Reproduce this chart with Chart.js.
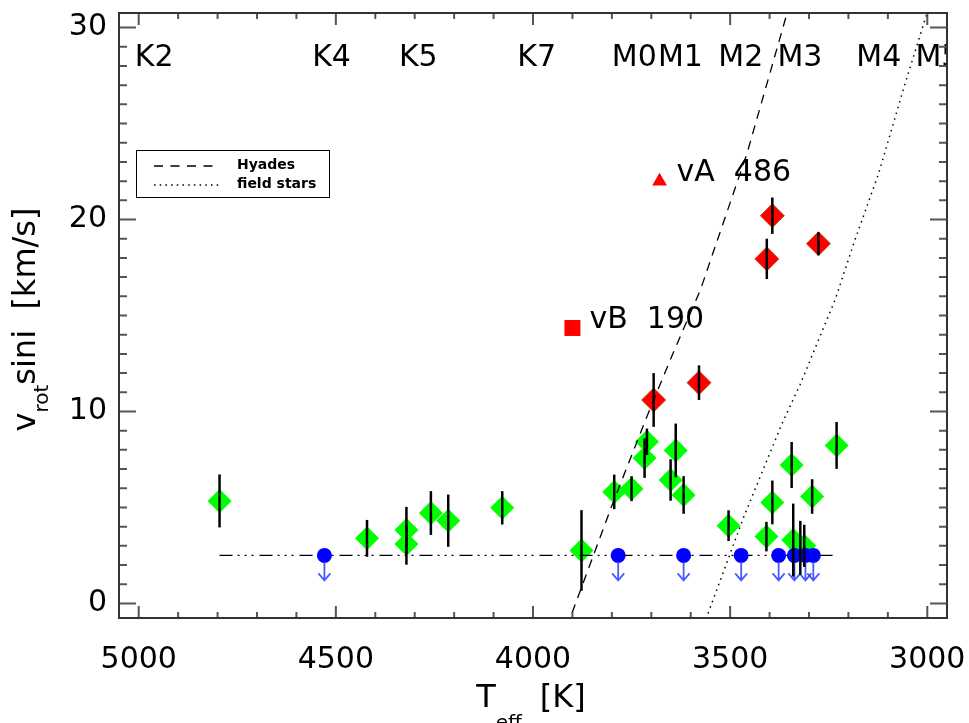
<!DOCTYPE html>
<html>
<head>
<meta charset="utf-8">
<script src="https://cdn.jsdelivr.net/npm/chart.js@4/dist/chart.umd.min.js"></script>
<style>
html, body { margin: 0; padding: 0; background: #fff; }
</style>
</head>
<body>
<canvas id="vsiniChart" width="969" height="723"></canvas>
<script>
// measured stars (green = slow rotators, red = fast rotators)
var greenTeff  = [4795, 4421, 4321, 4321, 4259, 4215, 4078, 3877, 3794, 3750, 3711, 3717, 3638, 3651, 3618, 3504, 3393, 3408, 3344, 3292, 3230, 3340, 3322, 3312];
var greenVsini = [5.34, 3.39, 3.83, 3.10, 4.71, 4.31, 4.98, 2.76, 5.81, 5.98, 8.42, 7.57, 7.97, 6.43, 5.65, 4.05, 5.26, 3.48, 7.21, 5.57, 8.23, 3.30, 2.90, 3.00];
var greenErr   = [1.38, 0.96, 1.20, 1.08, 1.14, 1.36, 0.87, 2.10, 0.90, 0.65, 0.69, 1.03, 1.40, 1.08, 0.98, 0.80, 1.14, 0.77, 1.20, 0.90, 1.22, 1.90, 1.40, 1.10];

var redTeff  = [3694, 3579, 3393, 3407, 3276];
var redVsini = [10.6, 11.5, 20.2, 17.95, 18.74];
var redErr   = [1.4, 0.9, 0.95, 1.05, 0.6];

// upper limits (vsini < 2.5 km/s)
var limitTeff  = [4529, 3784, 3618, 3472, 3377, 3337, 3309, 3289];
var limitVsini = 2.5;

// single objects
var vATeff = [3679], vAVsini = [22.0];
var vBTeff = [3900], vBVsini = [14.35];
var noteText  = ['vA  486', 'vB  190'];
var noteTeff  = [3636, 3857];
var noteVsini = [22.0, 14.35];

// comparison curves
var hyadesTeff  = [3901, 3800, 3711, 3652, 3575, 3457, 3355];
var hyadesVsini = [-0.5, 5.09, 9.74, 12.69, 16.36, 23.46, 30.8];
var fieldTeff   = [3556, 3466, 3368, 3323, 3233, 3186, 3123, 3059, 3000];
var fieldVsini  = [-0.52, 4.48, 9.39, 11.38, 15.86, 18.79, 22.42, 26.9, 30.8];

// spectral types along the top
var spTypes = ['K2', 'K4', 'K5', 'K7', 'M0', 'M1', 'M2', 'M3', 'M4', 'M5'];
var spTeff  = [5010, 4560, 4340, 4040, 3800, 3683, 3530, 3380, 3180, 3030];
var spVsini = 28;

var xTicks = [5000, 4500, 4000, 3500, 3000];
var yTicks = [0, 10, 20, 30];

function pts(xs, ys) {
    return xs.map(function(x, i) {
        return { x: x, y: Array.isArray(ys) ? ys[i] : ys };
    });
}

function noPad(s) {
    s.paddingLeft = 0;
    s.paddingRight = 0;
    s.paddingTop = 0;
    s.paddingBottom = 0;
}

var FONT = 'DejaVu Sans';

var overlay = {
    id: 'overlay',
    afterDatasetsDraw: function(chart) {
        var ctx = chart.ctx, xs = chart.scales.x, ys = chart.scales.y, area = chart.chartArea;
        ctx.save();
        ctx.beginPath();
        ctx.rect(area.left, area.top, area.right - area.left, area.bottom - area.top);
        ctx.clip();

        // arrows below the upper limits
        ctx.strokeStyle = 'rgba(40,60,255,0.85)';
        ctx.lineWidth = 1.8;
        limitTeff.forEach(function(t) {
            var px = xs.getPixelForValue(t), py = ys.getPixelForValue(limitVsini);
            ctx.beginPath();
            ctx.moveTo(px, py + 6);
            ctx.lineTo(px, py + 25);
            ctx.moveTo(px - 6, py + 18);
            ctx.lineTo(px, py + 25);
            ctx.lineTo(px + 6, py + 18);
            ctx.stroke();
        });

        // error bars
        ctx.strokeStyle = '#000';
        ctx.lineWidth = 2.5;
        function bars(tt, vv, ee) {
            tt.forEach(function(t, i) {
                var px = xs.getPixelForValue(t);
                ctx.beginPath();
                ctx.moveTo(px, ys.getPixelForValue(vv[i] + ee[i]));
                ctx.lineTo(px, ys.getPixelForValue(vv[i] - ee[i]));
                ctx.stroke();
            });
        }
        bars(greenTeff, greenVsini, greenErr);
        bars(redTeff, redVsini, redErr);

        // text in the plot
        ctx.fillStyle = '#000';
        ctx.font = '30px "' + FONT + '"';
        ctx.textAlign = 'left';
        ctx.textBaseline = 'alphabetic';
        spTypes.forEach(function(s, i) {
            ctx.fillText(s, xs.getPixelForValue(spTeff[i]), ys.getPixelForValue(spVsini));
        });
        noteText.forEach(function(s, i) {
            ctx.fillText(s, xs.getPixelForValue(noteTeff[i]), ys.getPixelForValue(noteVsini[i]));
        });
        ctx.restore();
    },
    afterDraw: function(chart) {
        var ctx = chart.ctx, xs = chart.scales.x, ys = chart.scales.y, a = chart.chartArea;
        ctx.save();

        // inward ticks on all four sides
        ctx.strokeStyle = '#555';
        ctx.lineWidth = 2;
        ctx.beginPath();
        for (var t = 3000; t <= 5000; t += 100) {
            var px = xs.getPixelForValue(t);
            var len = (t % 500 === 0) ? 12 : 6;
            ctx.moveTo(px, a.bottom); ctx.lineTo(px, a.bottom - len);
            ctx.moveTo(px, a.top); ctx.lineTo(px, a.top + len);
        }
        for (var v = 0; v <= 30; v += 1) {
            var py = ys.getPixelForValue(v);
            var ylen = (v % 10 === 0) ? 17 : 8;
            ctx.moveTo(a.left, py); ctx.lineTo(a.left + ylen, py);
            ctx.moveTo(a.right, py); ctx.lineTo(a.right - ylen, py);
        }
        ctx.stroke();

        // box
        ctx.strokeStyle = '#333';
        ctx.lineWidth = 2;
        ctx.strokeRect(a.left, a.top, a.right - a.left, a.bottom - a.top);

        // x title: T_eff [K]
        ctx.fillStyle = '#000';
        ctx.textBaseline = 'alphabetic';
        ctx.textAlign = 'left';
        var big = '32px "' + FONT + '"', small = '20px "' + FONT + '"';
        ctx.font = big; var wT = ctx.measureText('T').width; var wK = ctx.measureText('[K]').width;
        ctx.font = small; var wE = ctx.measureText('eff').width;
        var gap = 18;
        var x0 = (a.left + a.right) / 2 - 2 - (wT + wE + gap + wK) / 2;
        var base = 707;
        ctx.font = big; ctx.fillText('T', x0, base);
        ctx.font = small; ctx.fillText('eff', x0 + wT, base + 22);
        ctx.font = big; ctx.fillText('[K]', x0 + wT + wE + gap, base);

        // y title: v_rot sini [km/s]
        ctx.save();
        ctx.translate(35, (a.top + a.bottom) / 2);
        ctx.rotate(-Math.PI / 2);
        ctx.font = big; var wv = ctx.measureText('v').width; var ws = ctx.measureText('sini  [km/s]').width;
        ctx.font = small; var wr = ctx.measureText('rot').width;
        var y0 = -(wv + wr + ws) / 2 - 4;
        ctx.font = big; ctx.fillText('v', y0, 0);
        ctx.font = small; ctx.fillText('rot', y0 + wv, 13);
        ctx.font = big; ctx.fillText('sini  [km/s]', y0 + wv + wr, 0);
        ctx.restore();

        // legend
        var lx = a.left + 17, ly = a.top + 137;
        ctx.lineWidth = 1;
        ctx.strokeStyle = '#000';
        ctx.strokeRect(lx + 0.5, ly + 0.5, 193, 47);
        ctx.lineWidth = 1.3;
        ctx.setLineDash([9, 7.5]);
        ctx.beginPath(); ctx.moveTo(lx + 18, ly + 16); ctx.lineTo(lx + 83, ly + 16); ctx.stroke();
        ctx.setLineDash([1.5, 4.2]);
        ctx.beginPath(); ctx.moveTo(lx + 18, ly + 35); ctx.lineTo(lx + 83, ly + 35); ctx.stroke();
        ctx.setLineDash([]);
        ctx.font = 'bold 14px "' + FONT + '"';
        ctx.fillText('Hyades', lx + 101, ly + 19);
        ctx.fillText('field stars', lx + 101, ly + 38);

        ctx.restore();
    }
};

var ctx = document.getElementById('vsiniChart').getContext('2d');
var chart = new Chart(ctx, {
    type: 'scatter',
    data: {
        datasets: [
            {
                label: 'upper limits',
                data: pts(limitTeff, limitVsini),
                pointStyle: 'circle',
                pointRadius: 7.5,
                backgroundColor: '#0000ff',
                borderWidth: 0,
                order: 1
            },
            {
                label: 'limit line',
                data: pts([Math.max.apply(null, greenTeff), Math.min.apply(null, greenTeff)], limitVsini),
                showLine: true,
                pointRadius: 0,
                borderColor: '#000',
                borderWidth: 1.3,
                borderDash: [13, 5, 2, 5, 2, 5, 2, 6],
                order: 2
            },
            {
                label: 'Hyades',
                data: pts(hyadesTeff, hyadesVsini),
                showLine: true,
                pointRadius: 0,
                borderColor: '#000',
                borderWidth: 1.3,
                borderDash: [9, 7],
                order: 3
            },
            {
                label: 'field stars',
                data: pts(fieldTeff, fieldVsini),
                showLine: true,
                pointRadius: 0,
                borderColor: '#000',
                borderWidth: 1.5,
                borderDash: [1.5, 4.5],
                order: 4
            },
            {
                label: 'vA 486',
                data: pts(vATeff, vAVsini),
                pointStyle: 'triangle',
                pointRadius: 8.5,
                backgroundColor: '#ff0000',
                borderWidth: 0,
                order: 5
            },
            {
                label: 'vB 190',
                data: pts(vBTeff, vBVsini),
                pointStyle: 'rect',
                pointRadius: 11.3,
                backgroundColor: '#ff0000',
                borderWidth: 0,
                order: 6
            },
            {
                label: 'fast',
                data: pts(redTeff, redVsini),
                pointStyle: 'rectRot',
                pointRadius: 12,
                backgroundColor: '#ff0000',
                borderColor: 'rgba(170,70,0,0.8)',
                borderWidth: 1,
                order: 7
            },
            {
                label: 'slow',
                data: pts(greenTeff, greenVsini),
                pointStyle: 'rectRot',
                pointRadius: 12,
                backgroundColor: '#00ff00',
                borderWidth: 0,
                order: 8
            }
        ]
    },
    options: {
        responsive: false,
        devicePixelRatio: 1,
        animation: false,
        layout: { padding: { top: 7, right: 22, left: 0, bottom: 0 } },
        plugins: {
            legend: { display: false },
            tooltip: { enabled: false }
        },
        scales: {
            x: {
                type: 'linear',
                reverse: true,
                min: 2950,
                max: 5050,
                afterBuildTicks: function(s) { s.ticks = xTicks.map(function(v) { return { value: v }; }); },
                afterFit: function(s) { s.height = 105; noPad(s); },
                grid: { display: false, drawTicks: false },
                border: { display: false },
                ticks: {
                    font: { family: FONT, size: 30 },
                    color: '#000',
                    padding: 24,
                    maxRotation: 0,
                    autoSkip: false,
                    callback: function(v) { return String(v); }
                }
            },
            y: {
                type: 'linear',
                min: -0.76,
                max: 30.76,
                afterBuildTicks: function(s) { s.ticks = yTicks.map(function(v) { return { value: v }; }); },
                afterFit: function(s) { s.width = 119; noPad(s); },
                grid: { display: false, drawTicks: false },
                border: { display: false },
                ticks: {
                    font: { family: FONT, size: 30 },
                    color: '#000',
                    padding: 12,
                    autoSkip: false,
                    callback: function(v) { return String(v); }
                }
            }
        }
    },
    plugins: [overlay]
});
</script>
</body>
</html>
